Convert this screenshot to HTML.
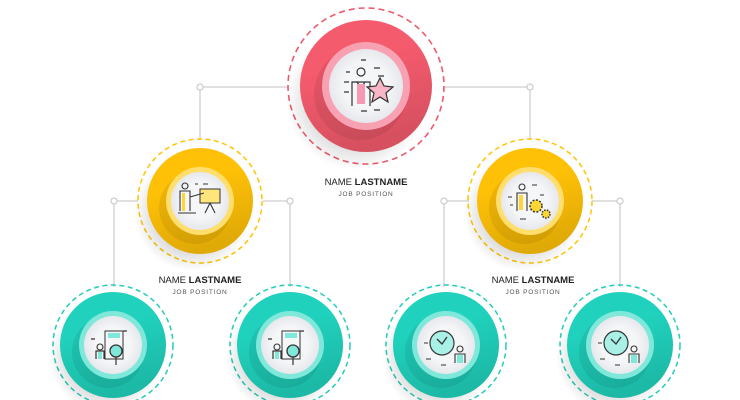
<!DOCTYPE html>
<html><head><meta charset="utf-8"><style>
html,body{margin:0;padding:0;background:#fff;width:740px;height:400px;overflow:hidden}
text{font-family:"Liberation Sans",sans-serif}
</style></head><body>
<svg width="740" height="400" viewBox="0 0 740 400" xmlns="http://www.w3.org/2000/svg">
<defs>
<radialGradient id="sh" cx="0.5" cy="0.5" r="0.5"><stop offset="0.6" stop-color="#000" stop-opacity="0.16"/><stop offset="1" stop-color="#000" stop-opacity="0"/></radialGradient>
<radialGradient id="wh" cx="0.5" cy="0.5" r="0.5"><stop offset="0.6" stop-color="#f5f6f8"/><stop offset="1" stop-color="#e6e8ec"/></radialGradient>
<linearGradient id="dk" x1="0" y1="0" x2="0.3" y2="1"><stop offset="0.4" stop-color="#000" stop-opacity="0"/><stop offset="1" stop-color="#000" stop-opacity="0.12"/></linearGradient>
</defs>
<g stroke="#d6d6d6" stroke-width="1.5" fill="none">
<path d="M288 87H200V140M444 87H530V140"/>
<path d="M138 201H114V287M263 201H290V287"/>
<path d="M469 201H444V287M592 201H620V287"/>
</g>
<g fill="#fff" stroke="#cfcfcf" stroke-width="1.3">
<circle cx="200" cy="87" r="3"/><circle cx="530" cy="87" r="3"/>
<circle cx="114" cy="201" r="3"/><circle cx="290" cy="201" r="3"/>
<circle cx="444" cy="201" r="3"/><circle cx="620" cy="201" r="3"/>
</g>
<!-- top -->
<g transform="translate(366,86)">
<circle r="78" fill="none" stroke="#ee5a6c" stroke-width="1.6" stroke-dasharray="6 4"/>
<circle cx="-10" cy="14" r="70" fill="url(#sh)"/>
<circle r="66" fill="#f45b6d"/>
<circle r="66" fill="url(#dk)"/>
<circle cx="-6" cy="8" r="46" fill="#000" opacity="0.07"/>
<circle r="44" fill="#f7a1b3"/>
<circle r="37" fill="url(#wh)"/>
<g stroke="#333" stroke-width="1.2" fill="none">
<circle cx="-5" cy="-14" r="4"/>
<path d="M-14 20V-4H4V20" /><path d="M-9 -4L-5 2L-1 -4"/>
<path d="M-20 -14h4M-22 -4h5M-22 6h5M8 -18h6M12 -10h6M-5 -26h5M-5 25h6M8 24h6"/>
</g>
<rect x="-9" y="-2" width="8" height="20" fill="#f59ab3"/>
<path d="M14 -8l4 8 9 1-7 6 2 9-8-5-8 5 2-9-7-6 9-1z" fill="#f9b6c6" stroke="#333" stroke-width="1.2"/>
</g>
<text x="366" y="185" font-size="9.5" text-anchor="middle" fill="#222">NAME <tspan font-weight="bold">LASTNAME</tspan></text>
<text x="366" y="196" font-size="6.5" text-anchor="middle" fill="#555" letter-spacing="0.8">JOB POSITION</text>
<!-- yellow nodes -->
<g transform="translate(200,201)">
<circle r="62" fill="none" stroke="#ffc400" stroke-width="1.5" stroke-dasharray="5 3.5"/>
<circle cx="-8" cy="12" r="58" fill="url(#sh)"/>
<circle r="53" fill="#ffc107"/>
<circle r="53" fill="url(#dk)"/>
<circle cx="-5" cy="7" r="36" fill="#000" opacity="0.07"/>
<circle r="34" fill="#ffde6e"/>
<circle r="29" fill="url(#wh)"/>
<rect x="0" y="-12" width="20" height="14" fill="#ffe57a" stroke="#333" stroke-width="1"/>
<g stroke="#333" stroke-width="1.1" fill="none"><circle cx="-15" cy="-15" r="3"/><path d="M-20 10V-10H-10V10M-10 -4L4 -8M10 2L5 12M10 2L15 12"/><path d="M-5 -17h3M3 -17h5M-22 12h18"/></g>
<rect x="-18" y="-8" width="3" height="18" fill="#ffd633"/>
</g>
<g transform="translate(530,201)">
<circle r="62" fill="none" stroke="#ffc400" stroke-width="1.5" stroke-dasharray="5 3.5"/>
<circle cx="-8" cy="12" r="58" fill="url(#sh)"/>
<circle r="53" fill="#ffc107"/>
<circle r="53" fill="url(#dk)"/>
<circle cx="-5" cy="7" r="36" fill="#000" opacity="0.07"/>
<circle r="34" fill="#ffde6e"/>
<circle r="29" fill="url(#wh)"/>
<g stroke="#333" stroke-width="1.1" fill="none"><circle cx="-8" cy="-14" r="3"/><path d="M-13 10V-8H-3V10M-22 -4h4M-20 4h3M2 -16h5M10 -6h4M-10 18h6"/></g>
<rect x="-11" y="-6" width="4" height="15" fill="#ffd633"/>
<circle cx="6" cy="5" r="6" fill="#ffd633" stroke="#333" stroke-width="1.5" stroke-dasharray="2 1.5"/>
<circle cx="16" cy="13" r="4" fill="#ffd633" stroke="#333" stroke-width="1.4" stroke-dasharray="1.6 1.2"/>
</g>
<text x="200" y="283" font-size="9.5" text-anchor="middle" fill="#222">NAME <tspan font-weight="bold">LASTNAME</tspan></text>
<text x="200" y="294" font-size="6.5" text-anchor="middle" fill="#555" letter-spacing="0.8">JOB POSITION</text>
<text x="533" y="283" font-size="9.5" text-anchor="middle" fill="#222">NAME <tspan font-weight="bold">LASTNAME</tspan></text>
<text x="533" y="294" font-size="6.5" text-anchor="middle" fill="#555" letter-spacing="0.8">JOB POSITION</text>
<!-- teal nodes -->
<g id="t1" transform="translate(113,345)">
<circle r="60" fill="none" stroke="#22cdb8" stroke-width="1.5" stroke-dasharray="5 3.5"/>
<circle cx="-8" cy="12" r="56" fill="url(#sh)"/>
<circle r="53" fill="#20d2bd"/>
<circle r="53" fill="url(#dk)"/>
<circle cx="-5" cy="7" r="36" fill="#000" opacity="0.07"/>
<circle r="34" fill="#7fe8da"/>
<circle r="29" fill="url(#wh)"/>
<path d="M-8 -14h18v28h-18z" fill="none" stroke="#333" stroke-width="1"/>
<rect x="-5" y="-12" width="12" height="5" fill="#7fe8da"/>
<circle cx="3" cy="6" r="6" fill="#7fe8da" stroke="#333" stroke-width="1.3"/>
<path d="M3 12v8M-17 14V6h8v8M-22 -6h4M10 -14h4" stroke="#333" stroke-width="1.2" fill="none"/>
<circle cx="-13" cy="2" r="3" fill="none" stroke="#333" stroke-width="1.1"/>
<rect x="-15" y="7" width="4" height="7" fill="#7fe8da"/>
</g>
<use href="#t1" x="177" y="0"/>
<g id="t3" transform="translate(446,345)">
<circle r="60" fill="none" stroke="#22cdb8" stroke-width="1.5" stroke-dasharray="5 3.5"/>
<circle cx="-8" cy="12" r="56" fill="url(#sh)"/>
<circle r="53" fill="#20d2bd"/>
<circle r="53" fill="url(#dk)"/>
<circle cx="-5" cy="7" r="36" fill="#000" opacity="0.07"/>
<circle r="34" fill="#7fe8da"/>
<circle r="29" fill="url(#wh)"/>
<circle cx="-4" cy="-2" r="12" fill="#a9f0e6" stroke="#333" stroke-width="1.2"/>
<path d="M-9 -6L-4 -1L1 -8" stroke="#333" stroke-width="1.3" fill="none"/>
<circle cx="14" cy="4" r="3" fill="none" stroke="#333" stroke-width="1.1"/>
<path d="M9 18V9h10v9M-20 14h5M-22 -2h4M-5 20h5" stroke="#333" stroke-width="1.1" fill="none"/>
<rect x="11" y="10" width="6" height="8" fill="#7fe8da"/>
</g>
<use href="#t3" x="174" y="0"/>
</svg>
</body></html>
